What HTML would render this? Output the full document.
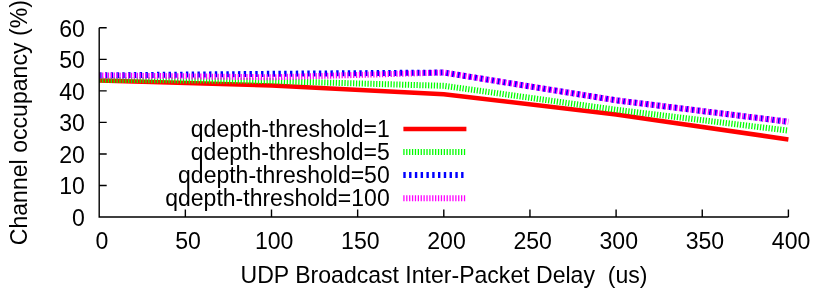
<!DOCTYPE html>
<html>
<head>
<meta charset="utf-8">
<style>
html,body{margin:0;padding:0;background:#fff;}
svg{display:block;}
text{filter:grayscale(1);font-family:"Liberation Sans",sans-serif;font-size:23.1px;fill:#000;}
</style>
</head>
<body>
<svg width="830" height="291" viewBox="0 0 830 291">
<rect width="830" height="291" fill="#fff"/>
<g text-anchor="end">
<text x="84.9" y="226.00">0</text>
<text x="84.9" y="194.46">10</text>
<text x="84.9" y="162.92">20</text>
<text x="84.9" y="131.38">30</text>
<text x="84.9" y="99.83">40</text>
<text x="84.9" y="68.29">50</text>
<text x="84.9" y="36.75">60</text>
</g>
<g text-anchor="middle">
<text x="101.90" y="248.6">0</text>
<text x="188.05" y="248.6">50</text>
<text x="274.20" y="248.6">100</text>
<text x="360.35" y="248.6">150</text>
<text x="446.50" y="248.6">200</text>
<text x="532.65" y="248.6">250</text>
<text x="618.80" y="248.6">300</text>
<text x="704.95" y="248.6">350</text>
<text x="791.10" y="248.6">400</text>
<text x="444.0" y="282.9" style="font-size:23.05px" xml:space="preserve">UDP Broadcast Inter-Packet Delay  (us)</text>
</g>
<text transform="translate(26.5,122.7) rotate(-90)" text-anchor="middle">Channel occupancy (%)</text>
<g text-anchor="end" style="font-size:23px">
<text x="389.7" y="136.60" style="font-size:23px">qdepth-threshold=1</text>
<text x="389.7" y="159.80" style="font-size:23px">qdepth-threshold=5</text>
<text x="389.7" y="182.90" style="font-size:23px">qdepth-threshold=50</text>
<text x="389.7" y="206.10" style="font-size:23px">qdepth-threshold=100</text>
</g>
<g fill="none" stroke-width="6">
<path d="M403.4,128.90 H466.4" stroke="#ff0000" stroke-width="4.5"/>
<path d="M403.3,152.00 H466.4" stroke="#00ff00" stroke-dasharray="1.274 1.611"/>
<path d="M403.3,175.10 H466.4" stroke="#0000ff" stroke-dasharray="2.4080 3.3735"/>
<path d="M403.3,198.30 H466.4" stroke="#ff00ff" stroke-dasharray="1.274 1.611"/>
</g>
<g fill="none" stroke-width="6" stroke-linejoin="miter">
<path d="M99.20,80.44 L271.50,85.49 L443.80,94.16 L616.10,114.50 L788.40,139.42" stroke="#ff0000" stroke-width="4.5"/>
<path d="M99.20,79.81 L271.50,81.07 L443.80,85.80 L616.10,109.77 L788.40,130.59" stroke="#00ff00" stroke-dasharray="1.274 1.611"/>
<path d="M99.20,75.39 L271.50,73.82 L443.80,72.55 L616.10,100.31 L788.40,121.76" stroke="#0000ff" stroke-dasharray="2.4080 3.3735"/>
<path d="M99.20,75.39 L271.50,77.29 L443.80,72.55 L616.10,100.31 L788.40,121.76" stroke="#ff00ff" stroke-dasharray="1.274 1.611"/>
</g>
<g stroke="#000" stroke-width="1.4" fill="none">
<path d="M99.20,27.80 V217.05 H788.40"/>
<path d="M99.20,185.51 h7.50 M99.20,153.97 h7.50 M99.20,122.42 h7.50 M99.20,90.88 h7.50 M99.20,59.34 h7.50 M99.20,27.80 h7.50"/>
<path d="M185.35,217.05 v-7.50 M271.50,217.05 v-7.50 M357.65,217.05 v-7.50 M443.80,217.05 v-7.50 M529.95,217.05 v-7.50 M616.10,217.05 v-7.50 M702.25,217.05 v-7.50 M788.40,217.05 v-7.50"/>
</g>
</svg>
</body>
</html>
